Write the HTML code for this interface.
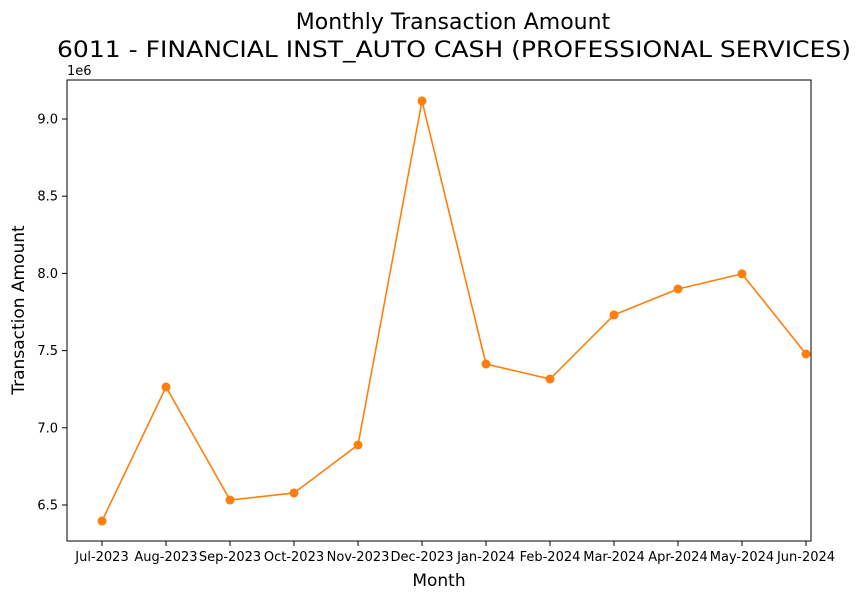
<!DOCTYPE html>
<html><head><meta charset="utf-8"><style>
body{margin:0;background:#fff;font-family:"DejaVu Sans","Liberation Sans",sans-serif}
svg text{font-family:"DejaVu Sans","Liberation Sans",sans-serif}
</style></head><body>
<svg id="chart" width="861" height="600" xmlns="http://www.w3.org/2000/svg">
<text x="453" y="29" font-size="22" text-anchor="middle">Monthly Transaction Amount</text>
<text x="454" y="57" font-size="22" text-anchor="middle" textLength="794" lengthAdjust="spacingAndGlyphs">6011 - FINANCIAL INST_AUTO CASH (PROFESSIONAL SERVICES)</text>
<text x="67" y="75" font-size="13">1e6</text>
<text x="439" y="586" font-size="17" text-anchor="middle">Month</text>
<text transform="translate(24,310) rotate(-90)" font-size="17" text-anchor="middle">Transaction Amount</text>
<g id="ticks"></g>
<rect x="67" y="80" width="744" height="461" fill="none" stroke="#000" stroke-width="1"/>
<g id="marks"></g>
</svg>
<script>
const categories=["Jul-2023","Aug-2023","Sep-2023","Oct-2023","Nov-2023","Dec-2023","Jan-2024","Feb-2024","Mar-2024","Apr-2024","May-2024","Jun-2024"];
const amounts=[6.396,7.264,6.532,6.578,6.889,9.117,7.413,7.316,7.731,7.899,7.997,7.478];
const yTicks=[6.5,7.0,7.5,8.0,8.5,9.0];
const NS="http://www.w3.org/2000/svg";
const x=i=>102+i*64;
const y=v=>505-(v-6.5)*154.4;
const tg=document.getElementById('ticks'),mg=document.getElementById('marks');
function mk(p,t,a){const e=document.createElementNS(NS,t);for(const k in a)e.setAttribute(k,a[k]);p.appendChild(e);return e;}
yTicks.forEach(v=>{
 const l=mk(tg,'line',{x1:62,x2:67,y1:y(v),y2:y(v),stroke:'#000'});
 
 
 const t=mk(tg,'text',{x:58,y:y(v)+4.5,'font-size':13,'text-anchor':'end'});t.textContent=v.toFixed(1);
 
 
});
categories.forEach((c,i)=>{
 const l=mk(tg,'line',{x1:x(i),x2:x(i),y1:541,y2:546,stroke:'#000'});
 
 
 const t=mk(tg,'text',{x:x(i),y:561,'font-size':13,'text-anchor':'middle'});t.textContent=c;
 
 
});
const pl=mk(mg,'polyline',{points:amounts.map((v,i)=>x(i)+','+y(v)).join(' '),fill:'none',stroke:'#ff7f0e','stroke-width':1.6});


amounts.forEach((v,i)=>{
 const c=mk(mg,'circle',{cx:x(i),cy:y(v),r:4.5,fill:'#ff7f0e'});
 
 
});
</script>
</body></html>
